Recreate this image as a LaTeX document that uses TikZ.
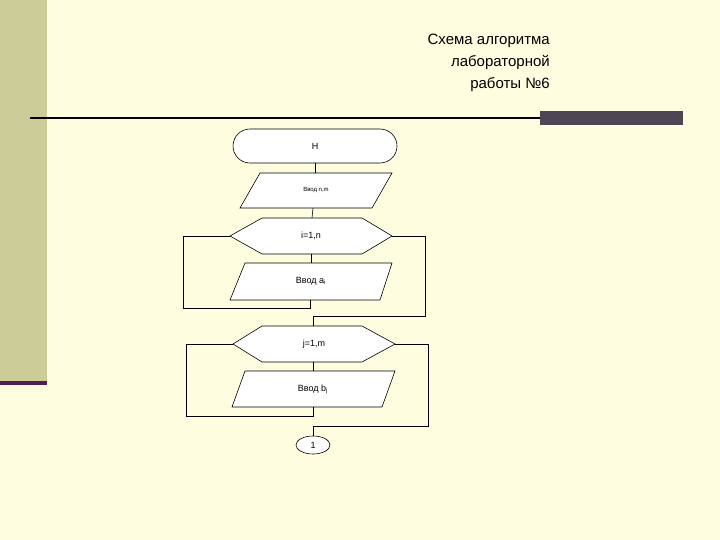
\documentclass[tikz,border=0pt]{standalone}
\usepackage{fontspec}
\setmainfont{Liberation Sans}
\usetikzlibrary{shapes.geometric}
\begin{document}
\begin{tikzpicture}[x=1pt,y=-1pt,
  blk/.style={draw=black,fill=white,line width=0.6pt},
  ln/.style={draw=black,line width=0.6pt},
  lbl/.style={font=\fontsize{9}{10}\selectfont}]
\fill[fill={rgb,255:red,255;green,253;blue,224}] (0,0) rectangle (720,540);
\useasboundingbox (0,0) rectangle (720,540);
\fill[fill={rgb,255:red,204;green,204;blue,153}] (0,0) rectangle (47,382);
\fill[fill={rgb,255:red,80;green,30;blue,80}] (0,381) rectangle (47,385);
\draw[line width=1.5pt] (30,118) -- (540,118);
\fill[fill={rgb,255:red,77;green,71;blue,85}] (540,111) rectangle (683,125);
\node[anchor=north east,align=right,font=\fontsize{15}{22}\selectfont,inner sep=0] (title) at (550,34) {Схема алгоритма\\лабораторной\\работы №6};

\node[blk,rounded corners=17pt,minimum width=164pt,minimum height=34pt,lbl] (start) at (315,146) {Н};
\draw[blk] (260,173) -- (392,173) -- (372,208) -- (240,208) -- cycle;
\node[lbl,font=\fontsize{6}{7}\selectfont] (inp1) at (316,190) {Ввод n,m};
\draw[blk] (230,236) -- (262,218) -- (362,218) -- (392,236) -- (362,254) -- (262,254) -- cycle;
\node[lbl] (loopi) at (311,236) {i=1,n};
\draw[blk] (245,263) -- (392,263) -- (380,300) -- (230,300) -- cycle;
\node[lbl] (inpa) at (311,281) {Ввод a\textsubscript{i}};
\draw[blk] (233,344) -- (262,326) -- (362,326) -- (395,344) -- (362,362) -- (262,362) -- cycle;
\node[lbl] (loopj) at (314,344) {j=1,m};
\draw[blk] (245,371) -- (395,371) -- (382,407) -- (232,407) -- cycle;
\node[lbl] (inpb) at (313,389) {Ввод b\textsubscript{j}};
\node[blk,ellipse,minimum width=34pt,minimum height=18pt,inner sep=0,lbl] (conn) at (313,445) {1};

\coordinate (iL) at (230,236); \coordinate (iR) at (392,236);
\coordinate (jL) at (233,344); \coordinate (jR) at (395,344);
\draw[ln] (start.south) -- (315,173);
\draw[ln] (313,208) -- (312,218);
\draw[ln] (311,254) -- (311,263);
\draw[ln] (310,300) -- (310,308) -- (183,308) -- (183,236) -- (iL);
\draw[ln] (iR) -- (425,236) -- (425,316) -- (313,316) -- (313,326);
\draw[ln] (313,362) -- (313,371);
\draw[ln] (313,407) -- (313,416) -- (186,416) -- (186,344) -- (jL);
\draw[ln] (jR) -- (428,344) -- (428,426) -- (313,426) -- (conn.north);
\end{tikzpicture}
\end{document}
